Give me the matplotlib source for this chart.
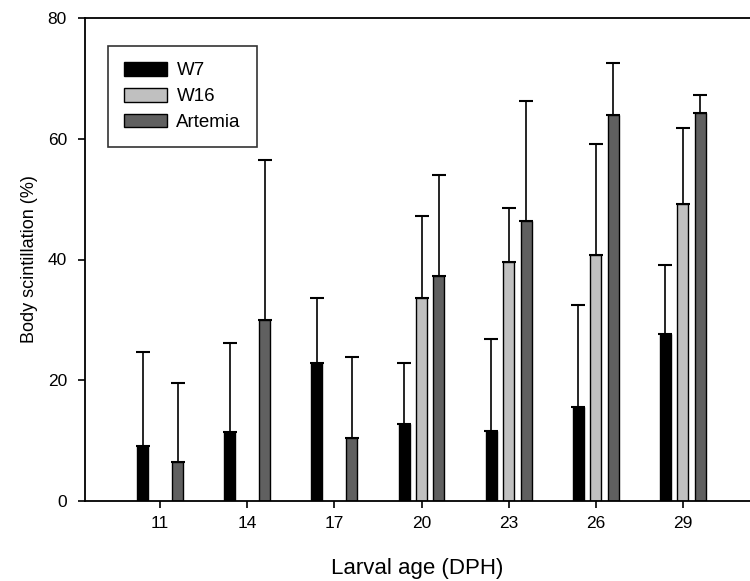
import numpy as np
import matplotlib
matplotlib.use('Agg')
import matplotlib.pyplot as plt

plt.rcParams['font.family'] = ['Liberation Sans', 'DejaVu Sans']

# Larval age (days post hatch)
days = ['11', '14', '17', '20', '23', '26', '29']

# Means (%) - W16 has no bars before day 20
w7 = [9.1, 11.4, 22.8, 12.7, 11.6, 15.6, 27.6]
w16 = [np.nan, np.nan, np.nan, 33.6, 39.6, 40.8, 49.2]
artemia = [6.4, 30.0, 10.4, 37.3, 46.4, 63.9, 64.2]

# Top of upper error bars (%)
w7_top = [24.7, 26.2, 33.6, 22.9, 26.9, 32.4, 39.1]
w16_top = [np.nan, np.nan, np.nan, 47.2, 48.5, 59.1, 61.8]
artemia_top = [19.6, 56.5, 23.8, 54.0, 66.2, 72.6, 67.3]

fig = plt.figure(figsize=(7.5, 5.81), dpi=100)
ax = fig.add_axes([85 / 750, 1 - 501 / 581, 1 - 85 / 750, (501 - 18) / 581])

x = np.arange(len(days))
width = 0.127
offset = 0.2

series = [
    (w7, w7_top, 'black', 'W7', -offset),
    (w16, w16_top, '#c0c0c0', 'W16', 0),
    (artemia, artemia_top, '#606060', 'Artemia', offset),
]

for vals, tops, color, label, dx in series:
    vals = np.array(vals)
    tops = np.array(tops)
    ax.bar(x + dx, vals, width, color=color, edgecolor='black', linewidth=1.0,
           label=label, zorder=2)
    ax.errorbar(x + dx, vals, yerr=[np.zeros_like(vals), tops - vals], fmt='none',
                ecolor='black', elinewidth=1.2, capsize=5, capthick=1.5, zorder=1)

ax.set_xlim(-0.862, 6.77)
ax.set_ylim(0, 80)
ax.set_xticks(x)
ax.set_xticklabels(days)
ax.set_yticks([0, 20, 40, 60, 80])

ax.spines['right'].set_visible(False)
for s in ['left', 'bottom', 'top']:
    ax.spines[s].set_linewidth(1.3)
ax.tick_params(axis='both', direction='out', length=5, width=1.2, labelsize=12.5)
ax.tick_params(axis='y', pad=8)
ax.tick_params(axis='x', pad=6)

ax.set_xlabel('Larval age (DPH)', fontsize=16, labelpad=19)
ax.set_ylabel('Body scintillation (%)', fontsize=13, labelpad=7)

leg = ax.legend(loc='upper left', bbox_to_anchor=(108 / 750, 1 - 46 / 581),
                bbox_transform=fig.transFigure, fontsize=13.5, frameon=True, fancybox=False,
                edgecolor='black', handlelength=2.3, handleheight=0.75, labelspacing=0.45,
                borderpad=0.85, handletextpad=0.5, borderaxespad=0)
leg.get_frame().set_linewidth(1.2)

fig.savefig('out.png', dpi=100)
